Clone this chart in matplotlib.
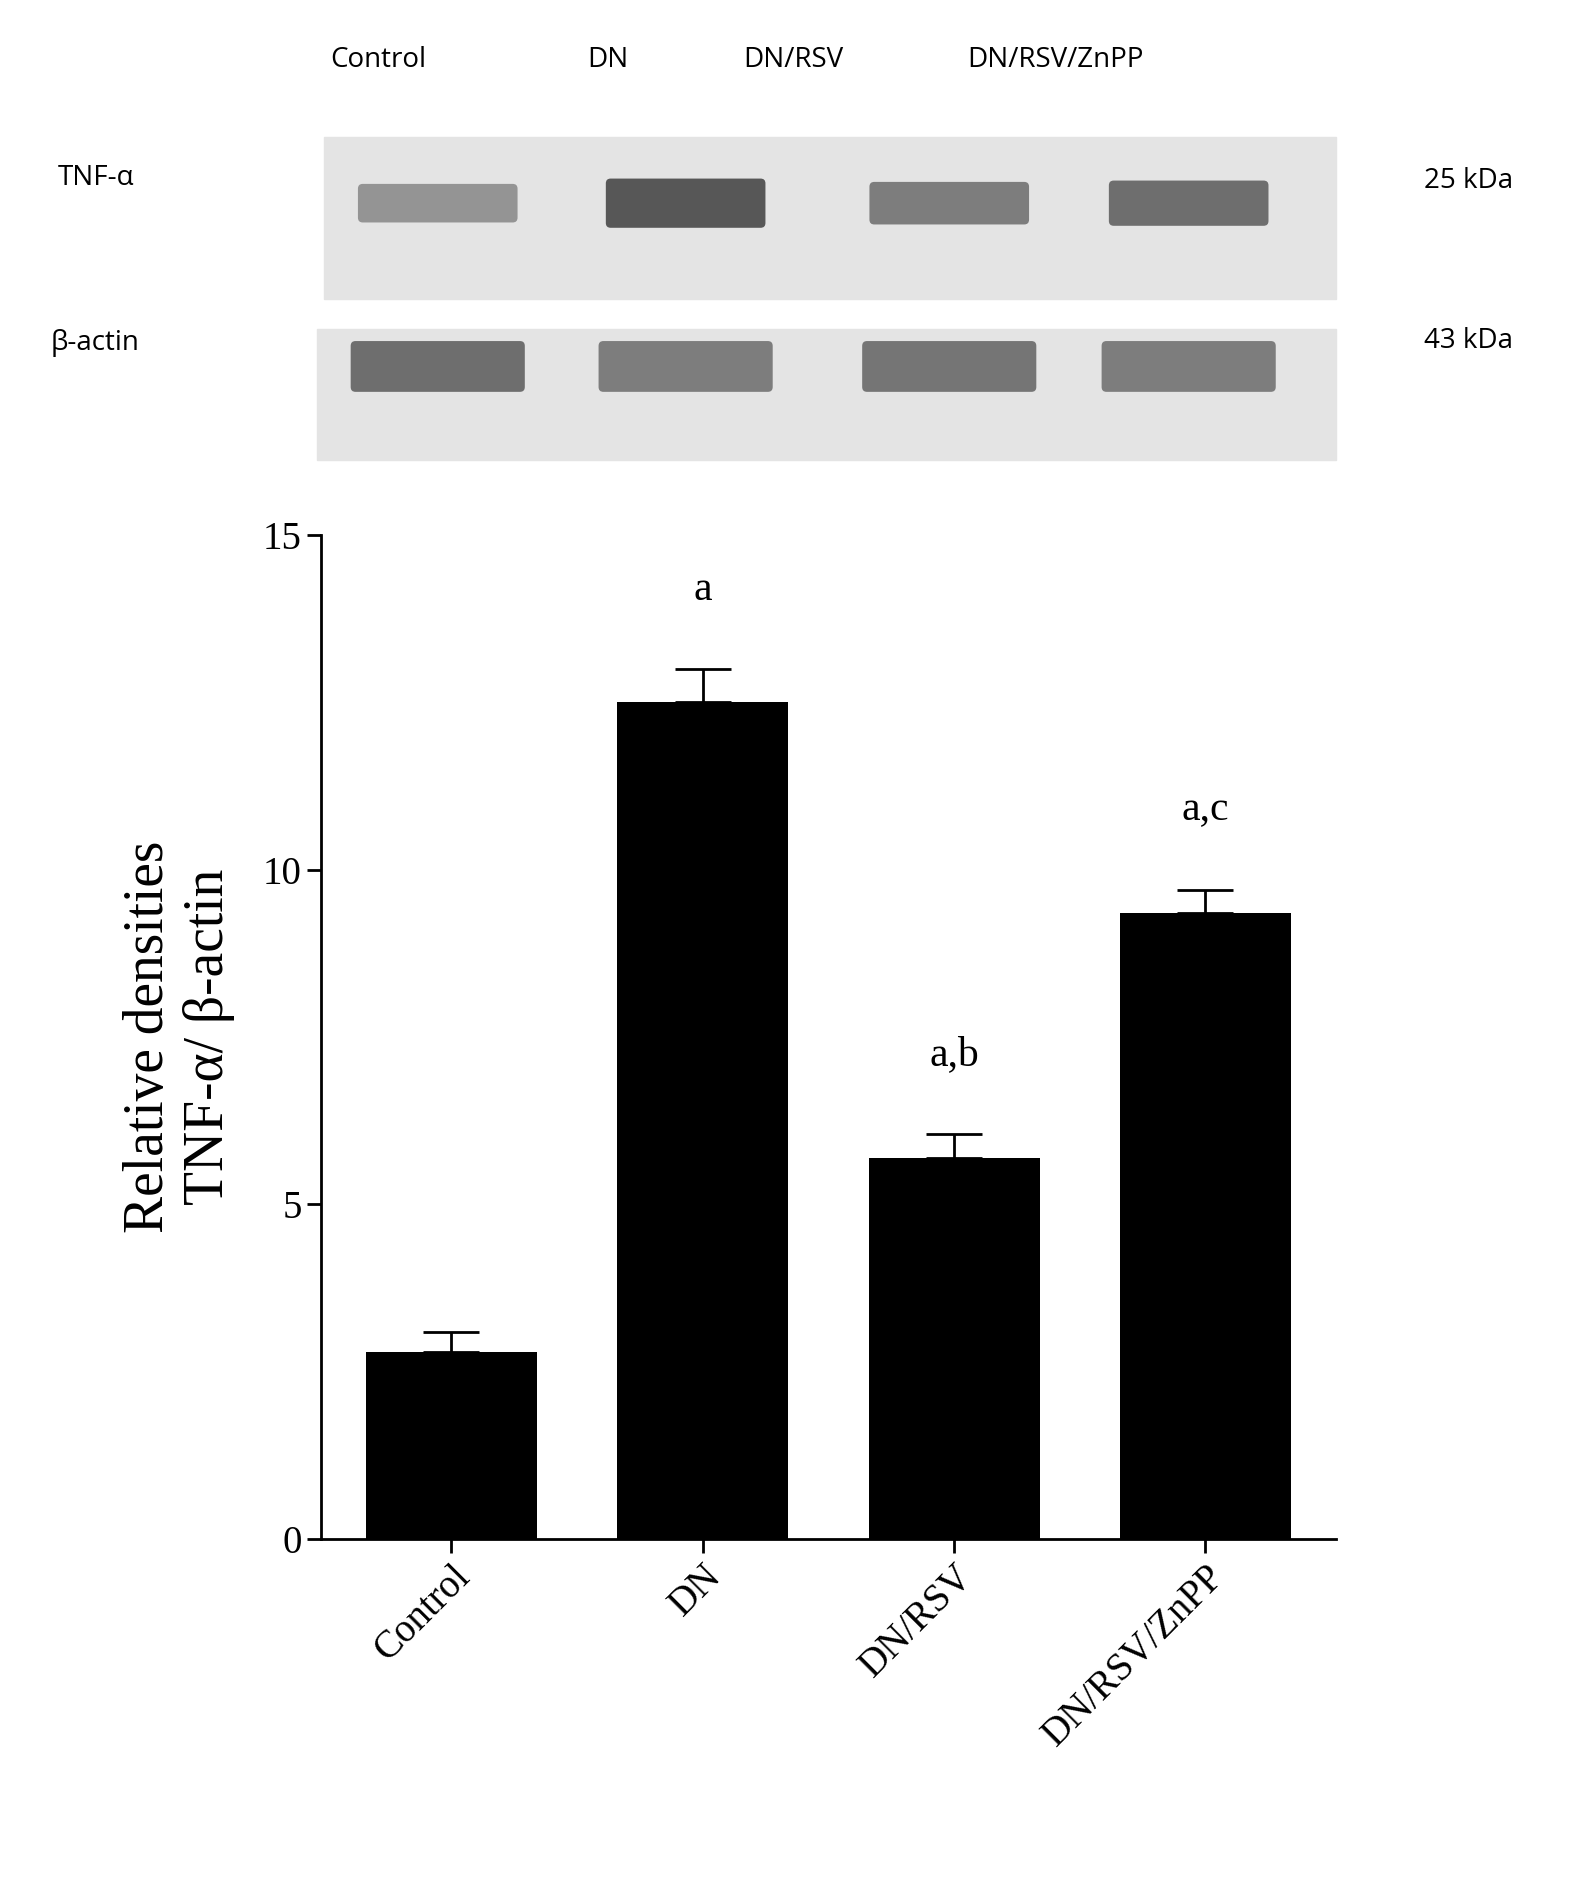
import matplotlib.pyplot as plt
from matplotlib.patches import Rectangle, FancyBboxPatch

groups = ["Control", "DN", "DN/RSV", "DN/RSV/ZnPP"]
means = [2.8, 12.5, 5.7, 9.35]
errors = [0.3, 0.5, 0.35, 0.35]
letters = ["", "a", "a,b", "a,c"]
tnf_band = [0.45, 0.85, 0.6, 0.7]   # relative band darkness
actin_band = [0.7, 0.6, 0.65, 0.6]

fig = plt.figure(figsize=(15.72, 18.77), dpi=100)

# blot overlay, coordinates in reference pixels (1300 x 1552 layout)
ov = fig.add_axes([0, 0, 1, 1])
ov.set_xlim(0, 1300)
ov.set_ylim(1552, 0)
ov.axis("off")
sans = "Open Sans"
lane_x = [362, 567, 785, 983]
for x, g in zip([273, 486, 615, 800], groups):
    ov.text(x, 50, g, fontsize=20, family=sans, va="center", ha="left")
ov.text(48, 147, "TNF-α", fontsize=20, family=sans, va="center")
ov.text(42, 284, "β-actin", fontsize=20, family=sans, va="center")
ov.text(1178, 150, "25 kDa", fontsize=20, family=sans, va="center")
ov.text(1178, 282, "43 kDa", fontsize=20, family=sans, va="center")
ov.add_patch(Rectangle((268, 113), 837, 134, color="#e4e4e4", zorder=1))
ov.add_patch(Rectangle((262, 272), 843, 108, color="#e4e4e4", zorder=1))
for x, d in zip(lane_x, tnf_band):
    h = 14 + 22 * d
    ov.add_patch(FancyBboxPatch((x - 62, 168 - h / 2), 124, h,
                                boxstyle="round,pad=4", color=str(0.85 - 0.6 * d),
                                lw=0, zorder=2))
for x, d in zip(lane_x, actin_band):
    ov.add_patch(FancyBboxPatch((x - 68, 286), 136, 34,
                                boxstyle="round,pad=4", color=str(0.85 - 0.6 * d),
                                lw=0, zorder=2))

ax = fig.add_axes([0.204, 0.180, 0.646, 0.535])
xs = range(len(groups))
ax.bar(xs, means, width=0.68, color="black", zorder=2)
ax.errorbar(xs, means, yerr=[[0] * 4, errors], fmt="none", ecolor="black",
            capsize=20, elinewidth=2, capthick=2, zorder=1)
for x, m, e, l in zip(xs, means, errors, letters):
    if l:
        ax.text(x, m + e + 0.9, l, ha="center", va="bottom", fontsize=30,
                family="Liberation Serif")
ax.set_ylim(0, 15)
ax.set_xlim(-0.52, 3.52)
ax.set_yticks([0, 5, 10, 15])
ax.set_xticks(list(xs))
ax.set_xticklabels(groups, rotation=45, ha="right", rotation_mode="anchor",
                   fontsize=28, family="Liberation Serif")
for t in ax.get_yticklabels():
    t.set_family("Liberation Serif")
    t.set_fontsize(28)
ax.tick_params(length=10, width=2)
for s in ["top", "right"]:
    ax.spines[s].set_visible(False)
for s in ["left", "bottom"]:
    ax.spines[s].set_linewidth(2)
ax.set_ylabel("Relative densities\nTNF-α/ β-actin", fontsize=40,
              family="Liberation Serif", labelpad=20)

fig.savefig("out.png", dpi=100)
